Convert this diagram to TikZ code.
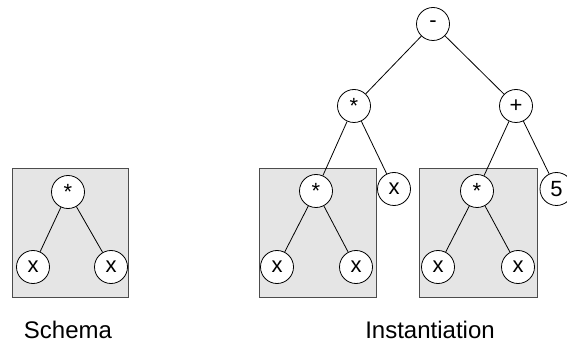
\documentclass[tikz,border=0pt]{standalone}
\usepackage{fontspec}
\setmainfont{Liberation Sans}
\tikzset{
  op/.style={draw, circle, fill=white, minimum size=33pt, inner sep=0pt,
    font=\fontsize{22}{26}\selectfont},
  schemabox/.style={draw=black!70, fill=black!10},
  caption/.style={anchor=base, font=\fontsize{24}{28}\selectfont}
}
\begin{document}
\begin{tikzpicture}[x=1pt, y=-1pt, line width=0.8pt]
\useasboundingbox (0,0) rectangle (567,347);
\clip (0,0) rectangle (567,347);
% schema
\draw[schemabox] (12,168) rectangle (128,297);
\node[op] (s) at (68,192) {*};
\node[op] (sl) at (33,267) {x};
\node[op] (sr) at (111,267) {x};
\draw (s) -- (sl);
\draw (s) -- (sr);
\node[caption] (schema) at (68,338) {Schema};
% instantiation
\draw[schemabox] (259,168) rectangle (376,297);
\draw[schemabox] (419,168) rectangle (537,297);
\node[op] (root) at (433,24) {-};
\node[op] (m) at (354,106) {*};
\node[op] (p) at (516,106) {+};
\node[op] (m1) at (316,191) {*};
\node[op] (m1l) at (277,267) {x};
\node[op] (m1r) at (356,267) {x};
\node[op] (mx) at (394,189) {x};
\node[op] (p1) at (477,191) {*};
\node[op] (p1l) at (438,267) {x};
\node[op] (p1r) at (518,267) {x};
\node[op] (five) at (556.5,189) {5};
\draw (root) -- (m);
\draw (root) -- (p);
\draw (m) -- (m1);
\draw (m) -- (mx);
\draw (p) -- (p1);
\draw (p) -- (five);
\draw (m1) -- (m1l);
\draw (m1) -- (m1r);
\draw (p1) -- (p1l);
\draw (p1) -- (p1r);
\node[caption] (inst) at (430,338) {Instantiation};
\end{tikzpicture}
\end{document}
